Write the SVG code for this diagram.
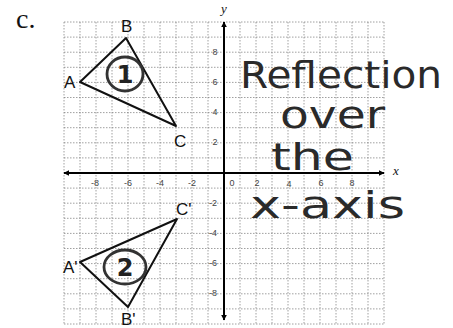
<svg xmlns="http://www.w3.org/2000/svg" width="453" height="328" viewBox="0 0 453 328">
<style>
.grid{stroke:#777;stroke-width:1;stroke-dasharray:1.5 1.5;fill:none;opacity:0.7}
.axis{stroke:#000;stroke-width:2;fill:none}
.tick{font-family:"Liberation Sans",Arial,sans-serif;font-size:9px;fill:#444;text-anchor:middle}
.tri{stroke:#111;stroke-width:2;fill:none;stroke-linejoin:round}
.ring{stroke:#333;stroke-width:2.8;fill:none}
.pt{font-family:"Liberation Sans",Arial,sans-serif;font-size:17px;fill:#111}
.hand{font-family:"DejaVu Sans",sans-serif;font-size:38px;fill:#2a2a2a}
</style>
<defs>
<marker id="ah" viewBox="0 0 10 10" refX="9" refY="5" markerWidth="6" markerHeight="6" orient="auto" markerUnits="userSpaceOnUse">
<path d="M0,0 L10,5 L0,10 z" fill="#000"/>
</marker>
</defs>
<rect width="453" height="328" fill="#fff"/>
<text x="16" y="28" font-family="Liberation Serif,serif" font-size="28" fill="#111">c.</text>
<g id="grid">
<path class="grid" d="M64,22V324M80,22V324M96,22V324M112,22V324M128,22V324M144,22V324M160,22V324M176,22V324M192,22V324M208,22V324M240,22V324M256,22V324M272,22V324M288,22V324M304,22V324M320,22V324M336,22V324M352,22V324M368,22V324M384,22V324"/>
<path class="grid" d="M64,22H384M64,37.1H384M64,52.2H384M64,67.3H384M64,82.4H384M64,97.5H384M64,112.6H384M64,127.7H384M64,142.8H384M64,157.9H384M64,188.1H384M64,203.2H384M64,218.3H384M64,233.4H384M64,248.5H384M64,263.6H384M64,278.7H384M64,293.8H384M64,308.9H384M64,324H384"/>
</g>
<g id="connectors">
<line class="axis" x1="224" y1="173" x2="224" y2="22" marker-end="url(#ah)"/>
<line class="axis" x1="224" y1="173" x2="224" y2="320" marker-end="url(#ah)"/>
<line class="axis" x1="224" y1="173" x2="384" y2="173" marker-end="url(#ah)"/>
<line class="axis" x1="224" y1="173" x2="64" y2="173" marker-end="url(#ah)"/>
</g>
<g id="axis-labels">
<text x="224" y="13" font-family="Liberation Serif,serif" font-style="italic" font-size="13" fill="#111" text-anchor="middle">y</text>
<text x="396" y="175" font-family="Liberation Serif,serif" font-style="italic" font-size="13" fill="#111" text-anchor="middle">x</text>
<text class="tick" x="95" y="186">-8</text>
<text class="tick" x="128" y="186">-6</text>
<text class="tick" x="160" y="186">-4</text>
<text class="tick" x="192" y="186">-2</text>
<text class="tick" x="232" y="186">0</text>
<text class="tick" x="257" y="186">2</text>
<text class="tick" x="289" y="187">4</text>
<text class="tick" x="321" y="186">6</text>
<text class="tick" x="352" y="186">8</text>
<text class="tick" x="215" y="55">8</text>
<text class="tick" x="215" y="85">6</text>
<text class="tick" x="215" y="115">4</text>
<text class="tick" x="215" y="145">2</text>
<text class="tick" x="213" y="206">-2</text>
<text class="tick" x="213" y="236">-4</text>
<text class="tick" x="213" y="266">-6</text>
<text class="tick" x="213" y="296">-8</text>
</g>
<g id="triangle1">
<polygon class="tri" points="80,82 126,38 176,126"/>
<ellipse class="ring" cx="125" cy="74" rx="18" ry="17"/>
<text x="125" y="83" font-family="DejaVu Sans,sans-serif" font-size="24" font-weight="bold" fill="#222" text-anchor="middle">1</text>
<text class="pt" x="64" y="88">A</text>
<text class="pt" x="121" y="32">B</text>
<text class="pt" x="174" y="147">C</text>
</g>
<g id="triangle2">
<polygon class="tri" points="80,262 128,307 177,219"/>
<ellipse class="ring" cx="125" cy="267" rx="21" ry="17"/>
<text x="125" y="276" font-family="DejaVu Sans,sans-serif" font-size="24" font-weight="bold" fill="#222" text-anchor="middle">2</text>
<text class="pt" x="63" y="273">A'</text>
<text class="pt" x="121" y="325">B'</text>
<text class="pt" x="176" y="215">C'</text>
</g>
<g id="note">
<text class="hand" x="240" y="88" textLength="202" lengthAdjust="spacingAndGlyphs">Reflection</text>
<text class="hand" x="280" y="128" textLength="105" lengthAdjust="spacingAndGlyphs">over</text>
<text class="hand" x="271" y="170" textLength="83" lengthAdjust="spacingAndGlyphs">the</text>
<text class="hand" x="250" y="218" textLength="155" lengthAdjust="spacingAndGlyphs">x-axis</text>
</g>
</svg>
